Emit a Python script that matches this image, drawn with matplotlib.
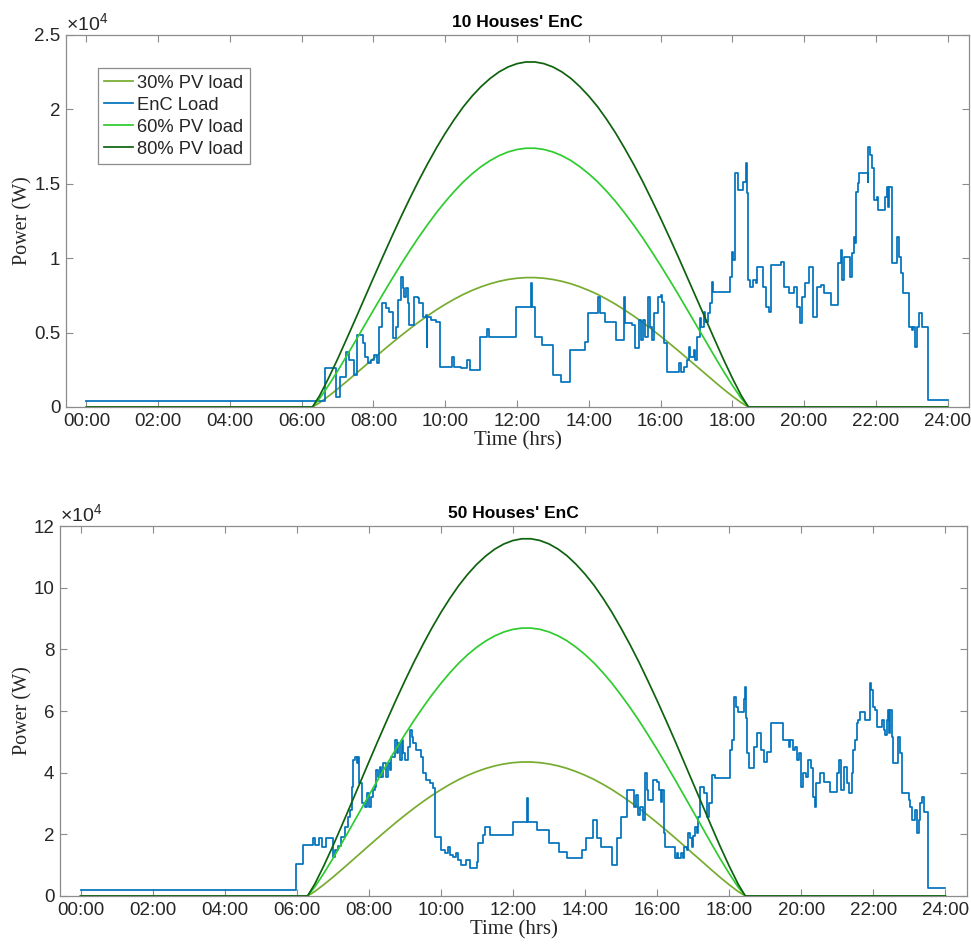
import numpy as np
import matplotlib
matplotlib.use("Agg")
import matplotlib.pyplot as plt

plt.rcParams['font.family'] = ['Liberation Sans', 'DejaVu Sans']
plt.rcParams['mathtext.default'] = 'regular'

# PV output profile, as a fraction of each curve's peak
pv_hours = [0, 6.3, 6.5, 6.75, 7.0, 7.25, 7.5, 7.75, 8.0, 8.25, 8.5, 8.75, 9.0, 9.25, 9.5, 9.75,
            10.0, 10.25, 10.5, 10.75, 11.0, 11.25, 11.5, 11.75, 12.0, 12.25, 12.5, 12.75, 13.0,
            13.25, 13.5, 13.75, 14.0, 14.25, 14.5, 14.75, 15.0, 15.25, 15.5, 15.75, 16.0, 16.25,
            16.5, 16.75, 17.0, 17.25, 17.5, 17.75, 18.0, 18.25, 18.45, 24]
pv_shape = [0, 0, .0332, .0841, .139, .1968, .2555, .315, .3744, .4332, .4909, .5473, .6016, .6538,
            .703, .7497, .7929, .8326, .8691, .9008, .9284, .9516, .9707, .9849, .9945, .9994, .9994,
            .9946, .985, .9707, .952, .9282, .9006, .8693, .8329, .7933, .7493, .7031, .6538, .6011,
            .547, .4909, .4336, .3745, .3154, .2566, .197, .139, .0841, .0332, 0, 0]

# peak of each PV curve (W)
pv_peak_10 = {'30%': 8700, '60%': 17400, '80%': 23200}
pv_peak_50 = {'30%': 43500, '60%': 87000, '80%': 116000}

# EnC load, step series: value holds from each time until the next (hours, W)
enc10_t = [0, 6.64, 6.96, 7.08, 7.24, 7.33, 7.47, 7.55, 7.70, 7.75, 7.84, 7.93, 8.02, 8.11, 8.16, 8.24,
           8.35, 8.44, 8.53, 8.63, 8.67, 8.77, 8.81, 8.86, 8.91, 8.95, 9.00, 9.14, 9.23, 9.28, 9.37,
           9.46, 9.48, 9.50, 9.60, 9.74, 9.85, 10.20, 10.24, 10.43, 10.60, 10.68, 10.96, 11.17, 11.21,
           11.98, 12.38, 12.41, 12.49, 12.69, 13.00, 13.24, 13.49, 13.89, 13.98, 14.26, 14.30, 14.45,
           14.76, 14.97, 15.00, 15.21, 15.30, 15.39, 15.46, 15.52, 15.57, 15.66, 15.70, 15.76, 15.83,
           15.93, 16.00, 16.03, 16.10, 16.17, 16.52, 16.56, 16.65, 16.74, 16.79, 16.83, 16.92, 16.97,
           17.02, 17.09, 17.13, 17.20, 17.25, 17.31, 17.38, 17.43, 17.47, 17.93, 17.98, 18.02, 18.07,
           18.16, 18.30, 18.37, 18.42, 18.45, 18.50, 18.57, 18.66, 18.70, 18.85, 18.94, 19.03, 19.08,
           19.35, 19.44, 19.58, 19.72, 19.81, 19.90, 19.95, 20.04, 20.13, 20.26, 20.35, 20.48, 20.57,
           20.75, 20.94, 21.02, 21.05, 21.11, 21.28, 21.33, 21.38, 21.41, 21.45, 21.50, 21.54, 21.77,
           21.79, 21.85, 21.89, 21.96, 22.03, 22.07, 22.25, 22.31, 22.35, 22.38, 22.44, 22.60, 22.65,
           22.69, 22.76, 22.92, 23.01, 23.05, 23.09, 23.14, 23.21, 23.28, 23.46, 24.0]
enc10_w = [400, 2640, 650, 2040, 3720, 3160, 2150, 4840, 4300, 3380, 2950, 3160, 3490, 2950, 5400, 6990,
           6650, 6400, 4640, 5400, 7190, 8760, 8000, 7410, 8000, 6990, 5510, 7410, 7300, 6990, 6070,
           6180, 4050, 6070, 5850, 5740, 2710, 3380, 2710, 2600, 3160, 2490, 4720, 5240, 4720,
           6740, 8310, 6740, 4720, 4170, 2150, 1700, 3830, 4390, 6300, 7410, 6300, 5730,
           4500, 7410, 5620, 5510, 3940, 5850, 4500, 5850, 4720, 7410, 5400, 4500, 6300,
           7410, 7520, 7080, 4280, 2370, 2940, 2370, 2710, 3160, 4050, 3380, 3830, 3160,
           4720, 5960, 5400, 6400, 5730, 6300, 6970, 8420, 7750, 8760, 10440, 9880, 15700,
           14580, 15140, 16380, 14360, 8530, 8080, 8530, 8310, 9430, 8080, 6740, 6400, 9540,
           9770, 8080, 7640, 8080, 6740, 5620, 7410, 8310, 9430, 6070, 8080, 8200, 7640,
           6860, 9660, 10550, 8530, 10100, 8760, 10330, 11440, 11000, 14470, 15030, 15700, 15140,
           17490, 16940, 16040, 13910, 14130, 13240, 14130, 14800, 13460, 14800, 9660, 11440, 10100,
           8980, 7640, 5400, 5170, 5400, 4050, 5400, 6300, 5400, 470, 470]

enc50_t = [0, 5.99, 6.16, 6.44, 6.50, 6.62, 6.71, 6.80, 7.01, 7.06, 7.15, 7.24, 7.33, 7.43, 7.47, 7.52,
           7.565, 7.61, 7.68, 7.70, 7.73, 7.80, 7.89, 7.95, 8.01, 8.07, 8.12, 8.17, 8.21, 8.26, 8.31,
           8.35, 8.40, 8.47, 8.54, 8.58, 8.63, 8.72, 8.77, 8.82, 8.86, 8.91, 8.95, 9.00, 9.09, 9.14,
           9.19, 9.23, 9.32, 9.46, 9.51, 9.60, 9.69, 9.77, 9.83, 10.00, 10.11, 10.20, 10.25, 10.34,
           10.43, 10.48, 10.57, 10.71, 10.81, 10.99, 11.04, 11.18, 11.22, 11.36, 11.99, 12.39, 12.42,
           12.68, 13.01, 13.29, 13.51, 13.91, 14.03, 14.23, 14.34, 14.44, 14.74, 14.88, 15.00, 15.16,
           15.36, 15.41, 15.48, 15.53, 15.60, 15.67, 15.71, 15.76, 15.90, 15.99, 16.06, 16.10, 16.14,
           16.18, 16.22, 16.50, 16.55, 16.59, 16.66, 16.71, 16.75, 16.82, 16.87, 16.92, 16.96, 17.01,
           17.06, 17.10, 17.15, 17.19, 17.29, 17.38, 17.45, 17.52, 17.61, 18.03, 18.07, 18.14, 18.19,
           18.26, 18.40, 18.43, 18.47, 18.51, 18.56, 18.68, 18.77, 18.88, 18.97, 19.05, 19.16, 19.49,
           19.65, 19.69, 19.77, 19.82, 19.88, 19.95, 20.00, 20.06, 20.14, 20.20, 20.28, 20.34, 20.37,
           20.42, 20.51, 20.64, 20.81, 20.99, 21.06, 21.11, 21.18, 21.27, 21.34, 21.41, 21.45, 21.50,
           21.55, 21.59, 21.64, 21.78, 21.90, 21.94, 21.99, 22.06, 22.10, 22.24, 22.29, 22.33, 22.38,
           22.41, 22.44, 22.47, 22.52, 22.55, 22.68, 22.73, 22.80, 22.98, 23.03, 23.07, 23.17, 23.21,
           23.26, 23.31, 23.35, 23.40, 23.52, 24.0]
enc50_w = [1950, 10380, 16540, 18710, 16540, 18710, 15990, 18710, 12750, 14920, 16300, 19030, 22470, 25720, 27890, 35450,
           44100, 45170, 43030, 45170, 36550, 30060, 28970, 33300, 28970, 32200, 34380, 35450, 40860, 38690, 41930,
           38690, 43030, 38690, 43030, 40860, 45170, 50590, 46280, 49520, 44100, 50590, 46280, 44100, 48420, 53830,
           51660, 49520, 47350, 45170, 39790, 37620, 36550, 34930, 19230, 14920, 13850, 16000, 13300, 12750,
           13850, 11680, 10050, 11680, 8980, 11130, 17090, 19780, 22470, 19780, 24100, 31680, 24100,
           21400, 17090, 14370, 12220, 14920, 18920, 24650, 18920, 15990, 10050, 18920, 25720, 34380,
           28970, 32760, 26270, 28970, 24650, 39790, 34380, 31130, 37620, 37080, 34380, 30580, 34380,
           20330, 15990, 12220, 13850, 12220, 13850, 12220, 15990, 14920, 20330, 18920, 15990, 19460,
           22470, 20330, 25720, 35450, 33300, 25720, 30060, 39240, 38170, 47350, 50590, 64630, 61390,
           59770, 64080, 67870, 57630, 46280, 41410, 48420, 52760, 47350, 43550, 46800, 56010, 50590,
           48420, 50590, 47350, 48420, 44100, 46280, 35450, 39790, 38690, 44100, 41410, 32200, 28970,
           36550, 39790, 37080, 33840, 39790, 44100, 34380, 41930, 36550, 33300, 39790, 47350, 50590,
           56010, 57080, 59770, 57080, 68980, 66820, 61390, 60310, 54930, 57080, 53830, 52210, 57080,
           60310, 52760, 60310, 51660, 43030, 51660, 46280, 33300, 31130, 28970, 24650, 27890, 20330,
           24650, 30060, 32200, 27350, 2490, 2490]

hour_ticks = list(range(0, 25, 2))
hour_labels = ["%02d:00" % h for h in hour_ticks]

panels = [
    dict(title="10 Houses' EnC", ymax=25000, yticks=[0, 5000, 10000, 15000, 20000, 25000],
         peaks=pv_peak_10, enc_t=enc10_t, enc_w=enc10_w,
         rect=[0.068, 0.5707, 0.930, 0.3924]),
    dict(title="50 Houses' EnC", ymax=120000, yticks=[0, 20000, 40000, 60000, 80000, 100000, 120000],
         peaks=pv_peak_50, enc_t=enc50_t, enc_w=enc50_w,
         rect=[0.0618, 0.0549, 0.934, 0.390]),
]

c30 = '#77AC30'
cenc = '#0072BD'
c60 = '#2ECC2E'
c80 = '#0E620E'
axis_col = '#8c8c8c'
text_col = '#262626'

fig = plt.figure(figsize=(9.71, 9.48), dpi=100)
shape = np.array(pv_shape)

for i, p in enumerate(panels):
    ax = fig.add_axes(p['rect'])
    lw = 1.25
    ax.plot(pv_hours, shape * p['peaks']['30%'], color=c30, lw=lw, label='30% PV load')
    ax.step(p['enc_t'], p['enc_w'], where='post', color=cenc, lw=lw, label='EnC Load')
    ax.plot(pv_hours, shape * p['peaks']['60%'], color=c60, lw=lw, label='60% PV load')
    ax.plot(pv_hours, shape * p['peaks']['80%'], color=c80, lw=lw, label='80% PV load')

    ax.set_xlim(-0.57, 24.6)
    ax.set_ylim(0, p['ymax'])
    ax.set_xticks(hour_ticks)
    ax.set_xticklabels(hour_labels)
    ax.set_yticks(p['yticks'])
    ax.set_yticklabels(["%g" % (v / 1e4) for v in p['yticks']])
    ax.tick_params(direction='in', top=True, right=True, length=5, width=0.8,
                   color=axis_col, labelcolor=text_col, labelsize=13.5, pad=4)
    for s in ax.spines.values():
        s.set_color(axis_col)
        s.set_linewidth(0.9)

    ax.text(0.0, 1.003, r'$\times10^{4}$', transform=ax.transAxes, ha='left', va='bottom',
            fontsize=14, color=text_col)
    ax.set_title(p['title'], fontsize=12.5, fontweight='bold', color='black', pad=6)
    ax.set_xlabel('Time (hrs)', family='Liberation Serif', fontsize=15, color=text_col, labelpad=1)
    ax.set_ylabel('Power (W)', family='Liberation Serif', fontsize=14.5, color=text_col, labelpad=1)

    if i == 0:
        leg = ax.legend(loc='upper left', bbox_to_anchor=(0.035, 0.911), borderaxespad=0,
                        fontsize=13.2, handlelength=1.6, handletextpad=0.2, borderpad=0.35,
                        labelspacing=0.28, fancybox=False, framealpha=1)
        leg.get_frame().set_edgecolor(axis_col)
        leg.get_frame().set_linewidth(0.9)
        for t in leg.get_texts():
            t.set_color(text_col)

fig.savefig('out.png', dpi=100)
